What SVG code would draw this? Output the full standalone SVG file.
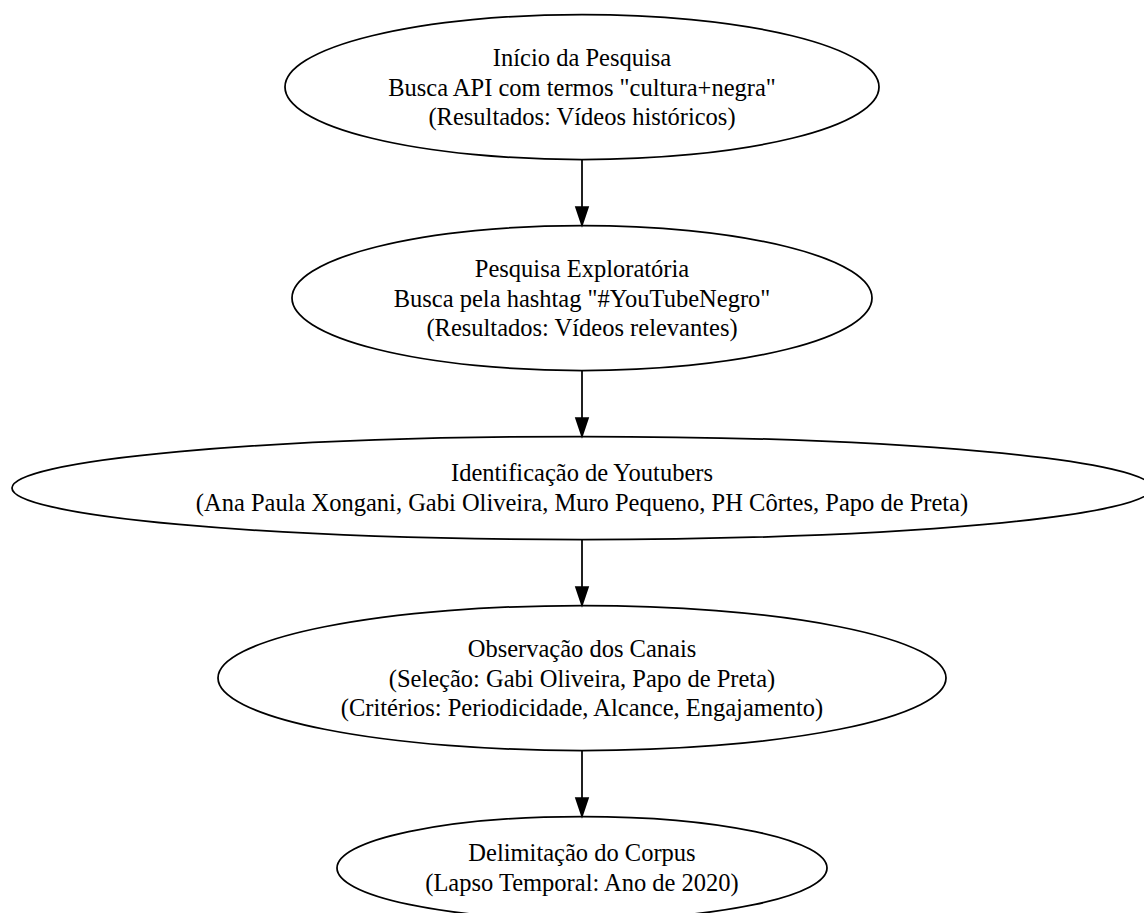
<svg xmlns="http://www.w3.org/2000/svg" width="1144" height="913" viewBox="0 0 1144 913">
<style>
.node ellipse{fill:none;stroke:#000;stroke-width:1.75}
.node text{font-family:"Liberation Serif","Times New Roman",serif;font-size:24.5px;fill:#000;text-anchor:middle}
.edge line{stroke:#000;stroke-width:1.75}
.edge polygon{fill:#000;stroke:#000;stroke-width:1.75}
</style>
<rect width="1144" height="913" fill="#fff"/>
<g id="edges" class="edge">
<line x1="582" y1="159.5" x2="582" y2="207"/>
<polygon points="576,207 588,207 582,225"/>
<line x1="582" y1="370.5" x2="582" y2="418"/>
<polygon points="576,418 588,418 582,436"/>
<line x1="582" y1="539.5" x2="582" y2="587"/>
<polygon points="576,587 588,587 582,605"/>
<line x1="582" y1="750.5" x2="582" y2="798"/>
<polygon points="576,798 588,798 582,816"/>
</g>
<g id="n1" class="node">
<ellipse cx="582" cy="87" rx="297" ry="72.5"/>
<text x="582" y="66">Início da Pesquisa</text>
<text x="582" y="95.5">Busca API com termos "cultura+negra"</text>
<text x="582" y="125">(Resultados: Vídeos históricos)</text>
</g>
<g id="n2" class="node">
<ellipse cx="582" cy="298" rx="290" ry="72.5"/>
<text x="582" y="277">Pesquisa Exploratória</text>
<text x="582" y="306.5">Busca pela hashtag "#YouTubeNegro"</text>
<text x="582" y="336">(Resultados: Vídeos relevantes)</text>
</g>
<g id="n3" class="node">
<ellipse cx="582" cy="488" rx="570" ry="51.5"/>
<text x="582" y="481">Identificação de Youtubers</text>
<text x="582" y="510.5">(Ana Paula Xongani, Gabi Oliveira, Muro Pequeno, PH Côrtes, Papo de Preta)</text>
</g>
<g id="n4" class="node">
<ellipse cx="582" cy="678" rx="364" ry="72.5"/>
<text x="582" y="657">Observação dos Canais</text>
<text x="582" y="686.5">(Seleção: Gabi Oliveira, Papo de Preta)</text>
<text x="582" y="716">(Critérios: Periodicidade, Alcance, Engajamento)</text>
</g>
<g id="n5" class="node">
<ellipse cx="582" cy="868" rx="245" ry="51.5"/>
<text x="582" y="861">Delimitação do Corpus</text>
<text x="582" y="890.5">(Lapso Temporal: Ano de 2020)</text>
</g>
</svg>
